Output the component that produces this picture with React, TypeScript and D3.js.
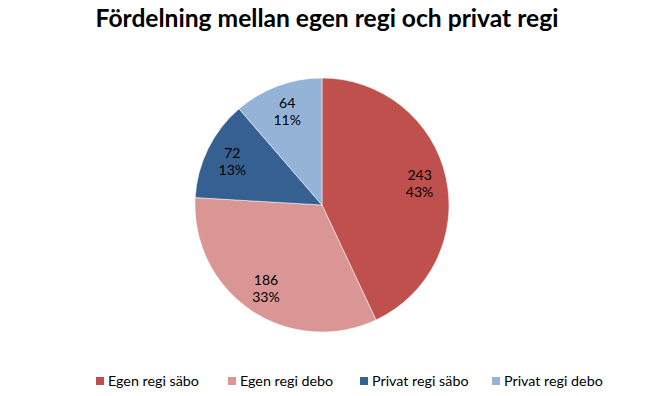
import * as d3 from 'd3';

const categories = ['Egen regi säbo', 'Egen regi debo', 'Privat regi säbo', 'Privat regi debo'];
const values = [243, 186, 72, 64];
const percentLabels = ['43%', '33%', '13%', '11%'];
const colors = ['#C0504D', '#D99694', '#376092', '#95B3D7'];

const W = 658;
const H = 396;
const FONT = 'Lato, "Open Sans", "Liberation Sans", sans-serif';

export default function App() {
    const cx = 322;
    const cy = 205;
    const r = 127;

    const pie = d3.pie<number>().sort(null).value(d => d);
    const arcs = pie(values);
    const arc = d3.arc<d3.PieArcDatum<number>>().innerRadius(0).outerRadius(r);
    const labelArc = d3.arc<d3.PieArcDatum<number>>().innerRadius(100).outerRadius(100);

    const legendX = d3.scaleBand().domain(categories).range([96, 624]);

    return (
        <svg width={W} height={H} style={{ position: 'absolute', left: 0, top: 0, background: '#fff' }}>
            <text x={327} y={27} textAnchor="middle" fontFamily={FONT} fontWeight="bold" fontSize={24.6} fill="#000">
                Fördelning mellan egen regi och privat regi
            </text>
            <g transform={`translate(${cx},${cy})`}>
                {arcs.map((a, i) => (
                    <path key={i} d={arc(a) ?? ''} fill={colors[i]} stroke="#fff" strokeWidth={0.5} />
                ))}
                {arcs.map((a, i) => {
                    const [lx, ly] = labelArc.centroid(a);
                    return (
                        <text key={i} x={lx} y={ly} textAnchor="middle" fontFamily={FONT} fontSize={14} fill="#000">
                            <tspan x={lx} dy={-3}>{values[i]}</tspan>
                            <tspan x={lx} dy={17}>{percentLabels[i]}</tspan>
                        </text>
                    );
                })}
            </g>
            <g>
                {categories.map((c, i) => (
                    <g key={c} transform={`translate(${legendX(c)},381)`}>
                        <rect x={0} y={-4} width={8} height={8} fill={colors[i]} />
                        <text x={12} y={5} fontFamily={FONT} fontSize={14.3} fill="#000">{c}</text>
                    </g>
                ))}
            </g>
        </svg>
    );
}
